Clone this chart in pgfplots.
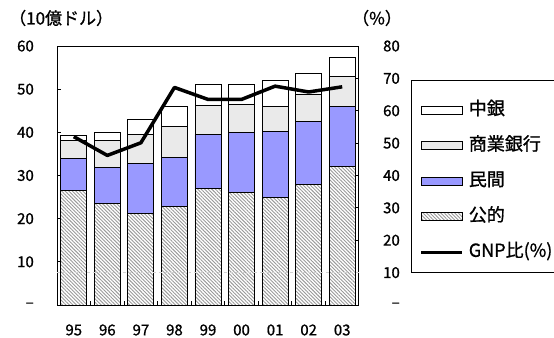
\documentclass[border=0pt]{standalone}
\usepackage{fontspec}
\setmainfont{Noto Sans CJK JP}[FakeBold=0.9]
\usepackage{pgfplots}
\pgfplotsset{compat=1.18}
\usetikzlibrary{patterns.meta}
\definecolor{minkan}{HTML}{9999FF}
\pgfplotsset{
  rectleg/.style={legend image code/.code={\draw[##1,line width=0.8bp] (0bp,-9bp) rectangle (41bp,-1bp);}},
  lineleg/.style={legend image code/.code={\draw[##1] (0bp,-5bp) -- (41bp,-5bp);}},
  hatchsty/.style={pattern={Lines[angle=-45,distance=2.5bp,line width=0.9bp]}, pattern color=gray!80},
  dotsty/.style={pattern={Dots[distance=2bp,radius=0.6bp]}, pattern color=gray!70},
}
\newcommand{\tfont}{\fontsize{15bp}{18bp}\selectfont}
\newcommand{\lfont}{\fontsize{18bp}{20bp}\selectfont}
\begin{document}
\begin{tikzpicture}
\useasboundingbox (0,0) rectangle (554bp,338bp);
\node[anchor=west, inner sep=0pt, font=\fontsize{17bp}{20bp}\selectfont] at (9bp,320bp) {（10億ドル）};
\node[anchor=west, inner sep=0pt, font=\fontsize{17bp}{20bp}\selectfont] at (352bp,320bp) {（\%）};
\begin{axis}[
  at={(57bp,33bp)}, anchor=south west, scale only axis,
  width=302bp, height=259bp,
  xmin=-0.5, xmax=8.5, ymin=0, ymax=60,
  ybar stacked, bar width=26bp,
  xtick={0,...,8}, xticklabels={95,96,97,98,99,00,01,02,03},
  minor xtick={0.5,1.5,...,7.5},
  xtick pos=bottom, ytick pos=left,
  major x tick style={draw=none},
  tick align=inside, major tick length=4bp, minor tick length=4bp,
  ytick={0,10,...,60}, yticklabels={–,10,20,30,40,50,60},
  tick style={black, line width=0.8bp},
  axis line style={black, line width=1bp},
  /pgf/number format/assume math mode=true,
  ticklabel style={font=\tfont},
  yticklabel style={anchor=east, inner sep=0pt, xshift=-23bp},
  xticklabel style={anchor=center, inner sep=0pt, yshift=-25bp},
  legend style={at={(1.172,0.869)}, anchor=north west, draw=black, line width=0.8bp,
    font=\lfont, inner xsep=8bp, inner ysep=7.25bp, row sep=0bp,
    nodes={inner sep=0pt, text height=27.25bp, text depth=8.25bp},
    /tikz/every odd column/.append style={column sep=5bp}},
  legend cell align=left,
]
\addplot[draw=black, line width=0.8bp, hatchsty, forget plot]
  coordinates {(0,26.6) (1,23.5) (2,21.2) (3,22.8) (4,26.9) (5,26.2) (6,25.0) (7,27.9) (8,32.1)};
\addplot[draw=black, line width=0.8bp, fill=minkan, forget plot]
  coordinates {(0,7.3) (1,8.3) (2,11.5) (3,11.3) (4,12.6) (5,13.7) (6,15.3) (7,14.6) (8,13.9)};
\addplot[draw=black, line width=0.8bp, dotsty, forget plot]
  coordinates {(0,4.2) (1,6.4) (2,6.8) (3,7.2) (4,6.8) (5,6.6) (6,5.8) (7,6.4) (8,6.9)};
\addplot[draw=black, line width=0.8bp, fill=white, forget plot]
  coordinates {(0,1.3) (1,1.7) (2,3.5) (3,4.8) (4,4.7) (5,4.7) (6,5.9) (7,4.8) (8,4.5)};
\addlegendimage{rectleg, draw=black, fill=white}
\addlegendentry{中銀}
\addlegendimage{rectleg, draw=black, dotsty}
\addlegendentry{商業銀行}
\addlegendimage{rectleg, draw=black, fill=minkan}
\addlegendentry{民間}
\addlegendimage{rectleg, draw=black, hatchsty}
\addlegendentry{公的}
\addlegendimage{lineleg, black, line width=3.5bp}
\addlegendentry{GNP比(\%)}
\end{axis}
\begin{axis}[
  at={(57bp,33bp)}, anchor=south west, scale only axis,
  width=302bp, height=259bp,
  xmin=-0.5, xmax=8.5, ymin=0, ymax=80,
  axis x line=none, axis y line*=right,
  ytick={0,10,...,80}, yticklabels={–,10,20,30,40,50,60,70,80},
  tick align=inside, major tick length=4bp,
  tick style={black, line width=0.8bp},
  axis line style={black, line width=1bp},
  extra y ticks={10}, extra y tick labels={},
  extra y tick style={grid=major, major grid style={gray!35, dashed, line width=0.6bp}, major tick length=0pt},
  /pgf/number format/assume math mode=true,
  ticklabel style={font=\tfont},
  yticklabel style={anchor=east, inner sep=0pt, xshift=41bp},
]
\addplot[black, line width=3.5bp, line join=round, no marks]
  coordinates {(0,52.0) (1,46.2) (2,50.1) (3,67.2) (4,63.5) (5,63.5) (6,67.6) (7,65.8) (8,67.4)};
\end{axis}
\end{tikzpicture}
\end{document}
